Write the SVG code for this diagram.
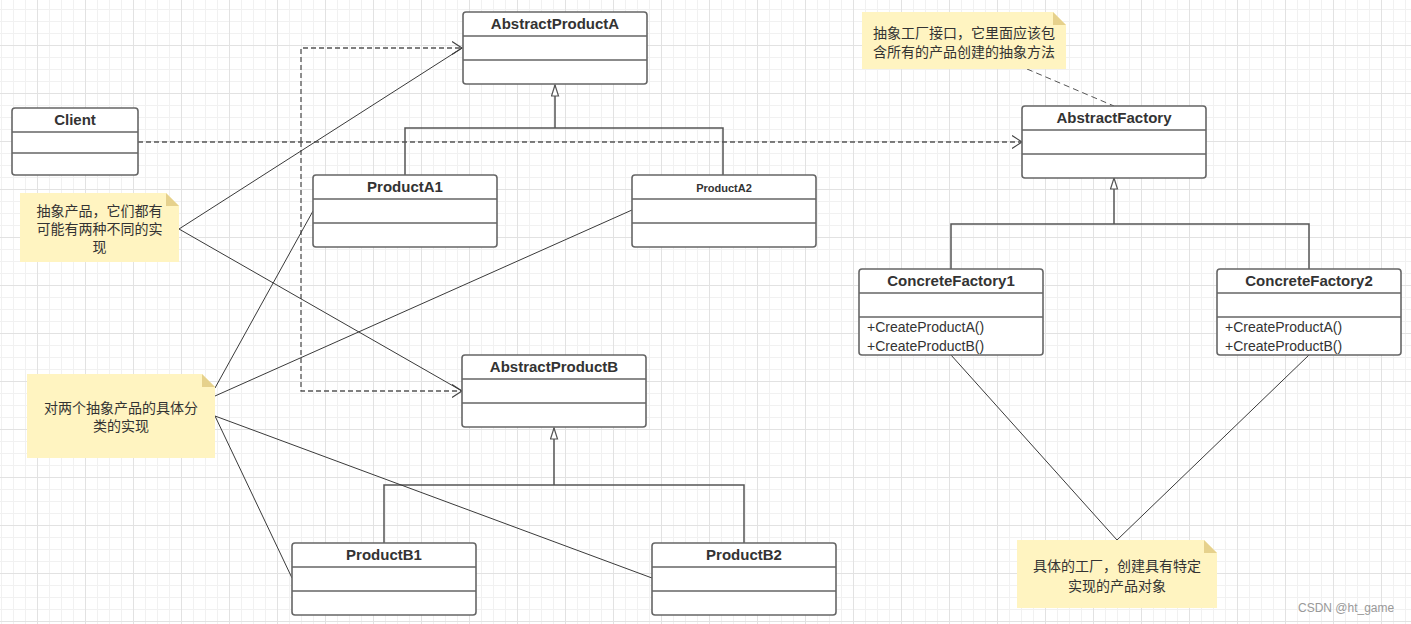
<svg xmlns="http://www.w3.org/2000/svg" width="1411" height="624" viewBox="0 0 1411 624">
<style>
.box{fill:#fff;stroke:#666;stroke-width:1.6}
.div{stroke:#666;stroke-width:1.6}
.title{font-family:"Liberation Sans",Arial,sans-serif;font-weight:bold;font-size:15px;fill:#333;text-anchor:middle}
.small{font-size:11px}
.meth{font-family:"Liberation Sans",Arial,sans-serif;font-size:14px;fill:#333}
.note{fill:#fff4c1}
.fold{fill:#e6d18c}
.nt{font-family:"Noto Sans CJK SC","Liberation Sans",sans-serif;font-size:14px;fill:#333;text-anchor:middle}
.gen{fill:none;stroke:#555;stroke-width:1.5}
.dash{fill:none;stroke:#555;stroke-width:1.3;stroke-dasharray:5 3}
.ln{fill:none;stroke:#3a3a3a;stroke-width:1}
</style>
<defs>
<pattern id="grid" patternUnits="userSpaceOnUse" x="37" y="45" width="48" height="48">
<path d="M12.5,0V48M24.5,0V48M36.5,0V48M0,12.5H48M0,24.5H48M0,36.5H48" stroke="#f1f1f1" stroke-width="1"/>
<path d="M0.5,0V48M0,0.5H48" stroke="#e2e2e2" stroke-width="1"/>
</pattern>
<marker id="open" markerUnits="userSpaceOnUse" markerWidth="12" markerHeight="16" refX="10.5" refY="7" orient="auto">
<path d="M0.5,0.5L10.5,7L0.5,13.5" fill="none" stroke="#444" stroke-width="1.2"/>
</marker>
<marker id="tri" markerUnits="userSpaceOnUse" markerWidth="14" markerHeight="10" refX="11.5" refY="4" orient="auto">
<path d="M0.5,0.5L11.5,4L0.5,7.5Z" fill="#fff" stroke="#555" stroke-width="1.2"/>
</marker>
</defs>
<rect width="1411" height="624" fill="#fff"/>
<rect width="1411" height="624" fill="url(#grid)"/>

<g id="connectors">
<path class="gen" d="M405,175V128H723V175"/>
<path class="gen" d="M555,128V85" marker-end="url(#tri)"/>
<path class="gen" d="M384,543V485H744V543"/>
<path class="gen" d="M554,485V428" marker-end="url(#tri)"/>
<path class="gen" d="M951,269V224H1309V269"/>
<path class="gen" d="M1114,224V178" marker-end="url(#tri)"/>
<path class="dash" d="M138,142H1022" marker-end="url(#open)"/>
<path class="dash" d="M301,142V48H462" marker-end="url(#open)"/>
<path class="dash" d="M301,142V391H462" marker-end="url(#open)"/>
<path class="dash" d="M1027,69L1114,106" style="stroke-width:1;stroke-dasharray:6 4"/>
<path class="ln" d="M179,229L462,48M179,229L462,391"/>
<path class="ln" d="M215,388L313,211M215,396L632,210M215,416L292,578M215,416L652,578"/>
<path class="ln" d="M951,355L1117,540L1309,355"/>
</g>

<g id="Client">
<rect class="box" x="12" y="108" width="126" height="67" rx="3"/>
<path class="div" d="M12,132H138M12,153H138"/>
<text class="title" x="75" y="125">Client</text>
</g>

<g id="AbstractProductA">
<rect class="box" x="463" y="12" width="184" height="72" rx="3"/>
<path class="div" d="M463,36H647M463,60H647"/>
<text class="title" x="555" y="29">AbstractProductA</text>
</g>

<g id="ProductA1">
<rect class="box" x="313" y="175" width="184" height="72" rx="3"/>
<path class="div" d="M313,199H497M313,223H497"/>
<text class="title" x="405" y="192">ProductA1</text>
</g>

<g id="ProductA2">
<rect class="box" x="632" y="175" width="184" height="72" rx="3"/>
<path class="div" d="M632,199H816M632,223H816"/>
<text class="title small" x="724" y="192">ProductA2</text>
</g>

<g id="AbstractProductB">
<rect class="box" x="462" y="355" width="184" height="72" rx="3"/>
<path class="div" d="M462,379H646M462,403H646"/>
<text class="title" x="554" y="372">AbstractProductB</text>
</g>

<g id="ProductB1">
<rect class="box" x="292" y="543" width="184" height="72" rx="3"/>
<path class="div" d="M292,567H476M292,591H476"/>
<text class="title" x="384" y="560">ProductB1</text>
</g>

<g id="ProductB2">
<rect class="box" x="652" y="543" width="184" height="72" rx="3"/>
<path class="div" d="M652,567H836M652,591H836"/>
<text class="title" x="744" y="560">ProductB2</text>
</g>

<g id="AbstractFactory">
<rect class="box" x="1022" y="106" width="184" height="72" rx="3"/>
<path class="div" d="M1022,130H1206M1022,154H1206"/>
<text class="title" x="1114" y="123">AbstractFactory</text>
</g>

<g id="ConcreteFactory1">
<rect class="box" x="859" y="269" width="184" height="86" rx="3"/>
<path class="div" d="M859,293H1043M859,317H1043"/>
<text class="title" x="951" y="286">ConcreteFactory1</text>
<text class="meth" x="867" y="332">+CreateProductA()</text>
<text class="meth" x="867" y="351">+CreateProductB()</text>
</g>

<g id="ConcreteFactory2">
<rect class="box" x="1217" y="269" width="184" height="86" rx="3"/>
<path class="div" d="M1217,293H1401M1217,317H1401"/>
<text class="title" x="1309" y="286">ConcreteFactory2</text>
<text class="meth" x="1225" y="332">+CreateProductA()</text>
<text class="meth" x="1225" y="351">+CreateProductB()</text>
</g>

<g id="note-products">
<path class="note" d="M20,193H166L179,206V262H20Z"/>
<path class="fold" d="M166,193L179,206H166Z"/>
<text class="nt" x="99.5" y="216">抽象产品，它们都有</text>
<text class="nt" x="99.5" y="234">可能有两种不同的实</text>
<text class="nt" x="99.5" y="252">现</text>
</g>

<g id="note-concrete-products">
<path class="note" d="M27,374H202L215,387V458H27Z"/>
<path class="fold" d="M202,374L215,387H202Z"/>
<text class="nt" x="121" y="413">对两个抽象产品的具体分</text>
<text class="nt" x="121" y="431">类的实现</text>
</g>

<g id="note-factory">
<path class="note" d="M862,12H1053L1066,25V69H862Z"/>
<path class="fold" d="M1053,12L1066,25H1053Z"/>
<text class="nt" x="964" y="38">抽象工厂接口，它里面应该包</text>
<text class="nt" x="964" y="57">含所有的产品创建的抽象方法</text>
</g>

<g id="note-concrete-factory">
<path class="note" d="M1017,540H1204L1217,553V608H1017Z"/>
<path class="fold" d="M1204,540L1217,553H1204Z"/>
<text class="nt" x="1117" y="571">具体的工厂，创建具有特定</text>
<text class="nt" x="1117" y="591">实现的产品对象</text>
</g>

<text x="1298" y="612" font-family="Liberation Sans,Arial,sans-serif" font-size="12" fill="#999">CSDN @ht_game</text>
</svg>
